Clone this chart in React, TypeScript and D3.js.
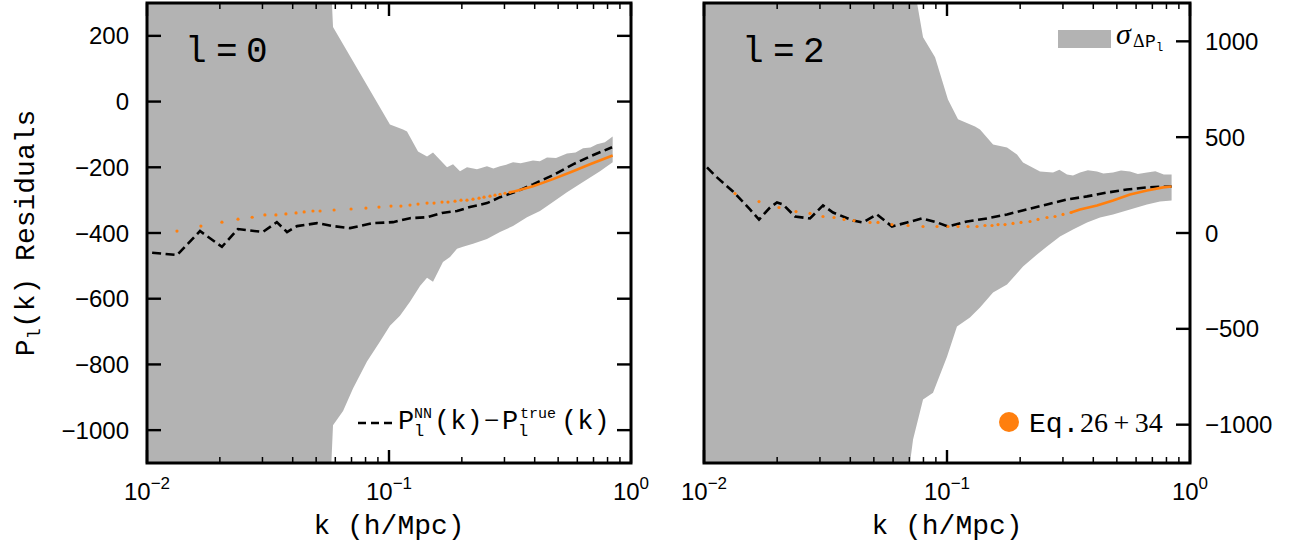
import React from 'react';
import * as d3 from 'd3';

// ---------------- data ----------------
// l = 0 panel
const kDashL0 = [0.0105, 0.0133, 0.01656, 0.0204, 0.02377, 0.0301, 0.0344, 0.0379, 0.0417, 0.0504, 0.0587, 0.069, 0.0859, 0.1039, 0.1221, 0.1436, 0.1656, 0.191, 0.216, 0.254, 0.2875, 0.338, 0.3936, 0.476, 0.576, 0.677, 0.835];
const vDashL0 = [-460, -467, -394, -442, -388, -397, -367, -397, -379, -370, -379, -385, -370, -367, -355, -352, -339, -333, -321, -309, -291, -273, -252, -224, -191, -167, -139];

const kModelL0 = [0.0133, 0.0167, 0.0204, 0.02377, 0.0272, 0.0307, 0.0341, 0.0375, 0.0413, 0.0446, 0.0485, 0.0519, 0.0593, 0.0697, 0.0803, 0.0909, 0.1019, 0.112, 0.1221, 0.1318, 0.1436, 0.1535, 0.1656, 0.1753, 0.1874, 0.1984, 0.21, 0.2224, 0.2355, 0.247, 0.2614, 0.2742, 0.2875, 0.3015, 0.316];
const vModelL0 = [-394, -379, -367, -358, -352, -345, -345, -342, -339, -336, -333, -333, -330, -327, -324, -321, -318, -318, -315, -312, -309, -309, -306, -306, -303, -300, -300, -297, -294, -291, -288, -285, -282, -279, -276];
const kModelLineL0 = [0.316, 0.3317, 0.3936, 0.476, 0.576, 0.677, 0.84];
const vModelLineL0 = [-276, -273, -258, -236, -212, -191, -164];

const kBandUpL0 = [0.01, 0.057, 0.0581, 0.0587, 0.1009, 0.1143, 0.1187, 0.1318, 0.1436, 0.152, 0.1737, 0.1839, 0.1965, 0.21, 0.231, 0.254, 0.27, 0.2875, 0.305, 0.3254, 0.35, 0.3936, 0.42, 0.4497, 0.49, 0.5438, 0.59, 0.6335, 0.68, 0.7236, 0.78, 0.84];
const vBandUpL0 = [3000, 500, 300, 227, -70, -85, -91, -152, -167, -155, -200, -191, -212, -200, -206, -197, -204, -197, -192, -185, -188, -179, -182, -170, -172, -158, -155, -142, -140, -130, -124, -106];
const kBandLoL0 = [0.01, 0.057, 0.0587, 0.0646, 0.071, 0.0811, 0.0918, 0.1009, 0.111, 0.1221, 0.1343, 0.1436, 0.152, 0.1671, 0.1787, 0.191, 0.2022, 0.2224, 0.254, 0.2875, 0.3254, 0.3717, 0.4206, 0.476, 0.5438, 0.6335, 0.7447, 0.84];
const vBandLoL0 = [-4000, -1200, -985, -942, -873, -791, -730, -682, -652, -609, -561, -536, -548, -488, -473, -448, -442, -433, -418, -397, -379, -352, -333, -306, -276, -245, -212, -185];

// l = 2 panel
const kDashL2 = [0.01029, 0.01131, 0.01316, 0.01546, 0.01684, 0.01868, 0.01997, 0.02113, 0.02369, 0.02731, 0.03088, 0.03396, 0.04105, 0.04513, 0.05151, 0.05937, 0.06846, 0.07891, 0.09097, 0.1009, 0.1209, 0.1461, 0.1766, 0.2135, 0.2579, 0.3118, 0.3769, 0.4555, 0.5506, 0.6653, 0.84];
const vDashL2 = [342, 290, 217, 123, 70, 133, 159, 149, 86, 76, 144, 107, 65, 55, 97, 34, 55, 76, 55, 34, 60, 76, 97, 123, 149, 175, 191, 211, 227, 238, 243];

const kModelL2 = [0.01342, 0.01684, 0.02035, 0.02391, 0.02731, 0.03088, 0.03428, 0.03769, 0.04143, 0.04822, 0.052, 0.05937, 0.06911, 0.07966, 0.09097, 0.1009, 0.111, 0.122, 0.1329, 0.1433, 0.1532, 0.1622, 0.1733, 0.1869, 0.2016, 0.2196, 0.2369, 0.2579, 0.2783, 0.3002, 0.3238];
const vModelL2 = [206, 164, 133, 112, 102, 86, 81, 71, 65, 55, 55, 44, 39, 34, 34, 34, 34, 34, 34, 39, 39, 44, 44, 50, 55, 60, 71, 81, 86, 97, 107];
const kModelLineL2 = [0.3238, 0.3527, 0.4143, 0.4822, 0.5664, 0.6653, 0.7745, 0.84];
const vModelLineL2 = [107, 123, 144, 170, 201, 222, 238, 243];

const kBandUpL2 = [0.01, 0.074, 0.0752, 0.0797, 0.0893, 0.1009, 0.111, 0.1304, 0.1367, 0.1547, 0.1766, 0.1941, 0.2055, 0.2414, 0.2731, 0.29, 0.3118, 0.33, 0.3527, 0.38, 0.4143, 0.44, 0.4822, 0.52, 0.5664, 0.61, 0.6653, 0.72, 0.78, 0.84];
const vBandUpL2 = [4000, 1500, 1204, 1021, 917, 697, 593, 556, 540, 462, 446, 410, 368, 321, 316, 330, 305, 300, 316, 328, 321, 310, 316, 326, 321, 308, 316, 322, 305, 305];
const kBandLoL2 = [0.01, 0.069, 0.0704, 0.0725, 0.0797, 0.0876, 0.1, 0.1099, 0.1243, 0.1367, 0.1547, 0.1766, 0.2055, 0.2347, 0.2579, 0.2917, 0.33, 0.3769, 0.4264, 0.4822, 0.5664, 0.6653, 0.7524, 0.84];
const vBandLoL2 = [-4000, -1500, -1200, -1078, -869, -833, -645, -488, -441, -389, -311, -269, -175, -112, -70, -18, 18, 55, 81, 97, 123, 149, 164, 170];

// axes
const xMajorTicks = [0.01, 0.1, 1];
const xMajorLabels = ['\u22122', '\u22121', '0'];
const xMinorTicks = [0.02, 0.03, 0.04, 0.05, 0.06, 0.07, 0.08, 0.09, 0.2, 0.3, 0.4, 0.5, 0.6, 0.7, 0.8, 0.9];
const yTicksL0 = [200, 0, -200, -400, -600, -800, -1000];
const yTicksL2 = [1000, 500, 0, -500, -1000];
const yDomainL0 = [-1100, 300];
const yDomainL2 = [-1200, 1200];

// ---------------- styling ----------------
const W = 1296;
const H = 547;
const TOP = 3;
const BOTTOM = 463;
const MONO = '"Liberation Mono", "DejaVu Sans Mono", monospace';
const SANS = '"Liberation Sans", Arial, sans-serif';
const SERIF = '"Liberation Serif", "DejaVu Serif", serif';
const BAND = '#b3b3b3';
const ORANGE = '#ff7f0e';

const zip = (a: number[], b: number[]) => a.map((v, i) => [v, b[i]] as [number, number]);
const fmt = (v: number) => (v < 0 ? '\u2212' + Math.abs(v) : String(v));

type PanelProps = {
  id: string;
  left: number;
  right: number;
  yDomain: number[];
  yTicks: number[];
  side: 'left' | 'right';
  ell: string;
  kDash: number[]; vDash: number[];
  kModel: number[]; vModel: number[];
  kModelLine: number[]; vModelLine: number[];
  kUp: number[]; vUp: number[];
  kLo: number[]; vLo: number[];
};

function Panel(p: PanelProps) {
  const xs = d3.scaleLog().domain([0.01, 1]).range([p.left, p.right]);
  const ys = d3.scaleLinear().domain(p.yDomain).range([BOTTOM, TOP]);
  const line = d3.line<[number, number]>().x(d => xs(d[0])).y(d => ys(d[1]));
  const up = zip(p.kUp, p.vUp);
  const lo = zip(p.kLo, p.vLo).reverse();
  const bandPath = line([...up, ...lo]) + 'Z';
  const dashPath = line(zip(p.kDash, p.vDash)) || '';
  const modelPath = line(zip(p.kModelLine, p.vModelLine)) || '';
  const model = zip(p.kModel, p.vModel);
  const cx = (p.left + p.right) / 2;
  return (
    <g>
      <defs>
        <clipPath id={p.id}>
          <rect x={p.left} y={TOP} width={p.right - p.left} height={BOTTOM - TOP} />
        </clipPath>
      </defs>
      <g clipPath={`url(#${p.id})`}>
        <path d={bandPath} fill={BAND} stroke="none" />
        <path d={dashPath} fill="none" stroke="#000" strokeWidth={2.6} strokeDasharray="9 4.5" />
        <path d={modelPath} fill="none" stroke={ORANGE} strokeWidth={2.6} />
        {model.map((d, i) => (
          <circle key={i} cx={xs(d[0])} cy={ys(d[1])} r={1.6} fill={ORANGE} />
        ))}
      </g>
      {/* x ticks */}
      {xMajorTicks.map((t, i) => (
        <g key={'xm' + i}>
          <line x1={xs(t)} x2={xs(t)} y1={BOTTOM} y2={BOTTOM - 13} stroke="#000" strokeWidth={2.4} />
          <line x1={xs(t)} x2={xs(t)} y1={TOP} y2={TOP + 13} stroke="#000" strokeWidth={2.4} />
          <text x={xs(t)} y={500} textAnchor="middle" fontFamily={SANS} fontSize={24} fill="#000">
            10<tspan dy={-11} fontSize={17}>{xMajorLabels[i]}</tspan>
          </text>
        </g>
      ))}
      {xMinorTicks.map((t, i) => (
        <g key={'xn' + i}>
          <line x1={xs(t)} x2={xs(t)} y1={BOTTOM} y2={BOTTOM - 6} stroke="#000" strokeWidth={1.5} />
          <line x1={xs(t)} x2={xs(t)} y1={TOP} y2={TOP + 6} stroke="#000" strokeWidth={1.5} />
        </g>
      ))}
      {/* y ticks */}
      {p.yTicks.map((t, i) => (
        <g key={'y' + i}>
          {p.side === 'left' && (
            <line x1={p.left} x2={p.left + 14} y1={ys(t)} y2={ys(t)} stroke="#000" strokeWidth={2.4} />
          )}
          <line x1={p.right} x2={p.right - 14} y1={ys(t)} y2={ys(t)} stroke="#000" strokeWidth={2.4} />
          <text
            x={p.side === 'left' ? p.left - 18 : p.right + 15}
            y={ys(t)}
            dy="0.36em"
            textAnchor={p.side === 'left' ? 'end' : 'start'}
            fontFamily={SANS}
            fontSize={24}
            fill="#000"
          >
            {fmt(t)}
          </text>
        </g>
      ))}
      {/* frame */}
      <rect x={p.left} y={TOP} width={p.right - p.left} height={BOTTOM - TOP} fill="none" stroke="#000" strokeWidth={3} />
      {/* x label */}
      <text x={cx} y={534} textAnchor="middle" fontFamily={MONO} fontSize={28} fill="#000">
        k (h/Mpc)
      </text>
      {/* panel label */}
      <text
        x={`${p.left + 38} ${p.left + 69} ${p.left + 99}`}
        y={62}
        fontFamily={MONO}
        fontSize={36}
        fill="#000"
      >
        {p.ell}
      </text>
    </g>
  );
}

export default function App() {
  return (
    <svg
      width={W}
      height={H}
      viewBox={`0 0 ${W} ${H}`}
      style={{ position: 'absolute', left: 0, top: 0, background: '#fff' }}
    >
      <rect x={0} y={0} width={W} height={H} fill="#fff" />
      <Panel
        id="clipL0"
        left={147}
        right={631}
        yDomain={yDomainL0}
        yTicks={yTicksL0}
        side="left"
        ell="l=0"
        kDash={kDashL0} vDash={vDashL0}
        kModel={kModelL0} vModel={vModelL0}
        kModelLine={kModelLineL0} vModelLine={vModelLineL0}
        kUp={kBandUpL0} vUp={vBandUpL0}
        kLo={kBandLoL0} vLo={vBandLoL0}
      />
      <Panel
        id="clipL2"
        left={704}
        right={1190}
        yDomain={yDomainL2}
        yTicks={yTicksL2}
        side="right"
        ell="l=2"
        kDash={kDashL2} vDash={vDashL2}
        kModel={kModelL2} vModel={vModelL2}
        kModelLine={kModelLineL2} vModelLine={vModelLineL2}
        kUp={kBandUpL2} vUp={vBandUpL2}
        kLo={kBandLoL2} vLo={vBandLoL2}
      />
      {/* y label */}
      <text transform="translate(34,233) rotate(-90)" textAnchor="middle" fontFamily={MONO} fontSize={28} fill="#000">
        P<tspan fontSize={19} dy={6}>l</tspan><tspan dy={-6}>(k) Residuals</tspan>
      </text>
      {/* legend: dashed */}
      <line x1={358} x2={395} y1={423} y2={423} stroke="#000" strokeWidth={2.6} strokeDasharray="8 5" />
      <g fontFamily={MONO} fill="#000">
        <text x={398} y={429} fontSize={27}>P</text>
        <text x={414} y={436} fontSize={17}>l</text>
        <text x={414} y={418} fontSize={15}>NN</text>
        <text x={434} y={429} fontSize={27}>(k)</text>
        <text x={484} y={429} fontSize={27} fontFamily={SERIF}>{'\u2212'}</text>
        <text x={502} y={429} fontSize={27}>P</text>
        <text x={518} y={436} fontSize={17}>l</text>
        <text x={520} y={418} fontSize={15}>true</text>
        <text x={561} y={429} fontSize={27}>(k)</text>
      </g>
      {/* legend: band */}
      <rect x={1058} y={30} width={53} height={18} fill={BAND} />
      <g fill="#000">
        <text x={1116} y={44} fontSize={30} fontFamily={SERIF} fontStyle="italic">{'\u03c3'}</text>
        <text x={1133} y={47} fontSize={18} fontFamily={SERIF}>{'\u0394'}</text>
        <text x={1145} y={47} fontSize={18} fontFamily={MONO}>P</text>
        <text x={1156} y={51} fontSize={12} fontFamily={MONO}>l</text>
      </g>
      {/* legend: model */}
      <circle cx={1009} cy={422} r={10} fill={ORANGE} />
      <g fill="#000">
        <text x={1029} y={432} fontSize={28} fontFamily={MONO}>Eq.</text>
        <text x={1080} y={432} fontSize={28} fontFamily={SERIF} wordSpacing={-1.5}>26 + 34</text>
      </g>
    </svg>
  );
}
